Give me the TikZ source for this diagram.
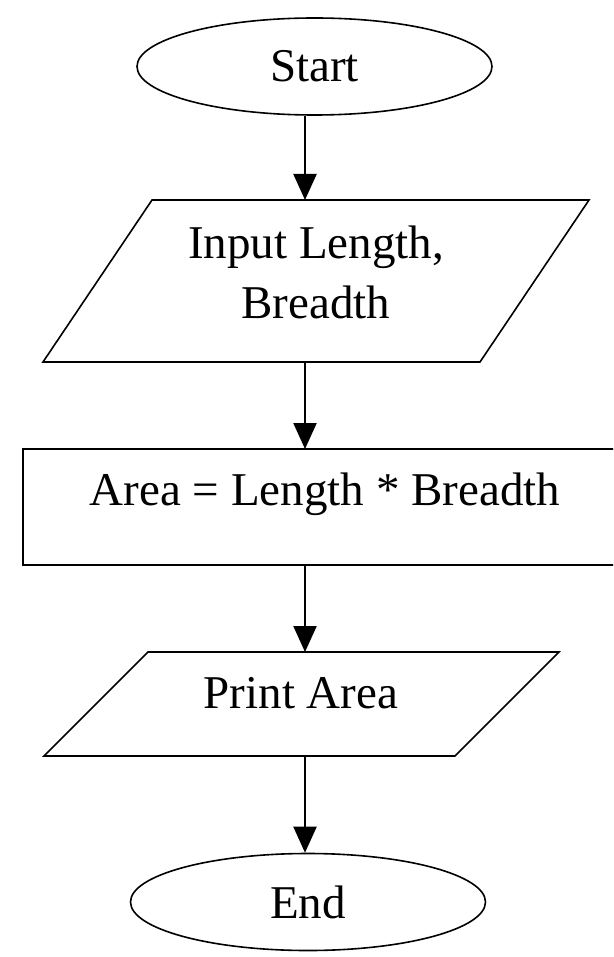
\documentclass[tikz,border=0pt]{standalone}
\usepackage{fontspec}
\setmainfont{Liberation Serif}
\usetikzlibrary{shapes.geometric,arrows.meta}
\begin{document}
\begin{tikzpicture}[x=1pt,y=-1pt,
  shapeline/.style={draw=black,line width=1.6pt},
  flowfont/.style={font=\fontsize{47}{60}\selectfont},
  flowtext/.style={flowfont, align=center, inner sep=0pt},
  terminal/.style={shapeline, ellipse, minimum width=355pt, minimum height=97pt, inner sep=0pt, flowfont},
  ghostbox/.style={inner sep=0pt, outer sep=0pt},
  flowarrow/.style={draw=black, line width=2.2pt, -{Triangle[width=23pt,length=26pt]}}]
\useasboundingbox (0,0) rectangle (613,957);
\clip (0,0) rectangle (613,957);
\coordinate (axis) at (305,0);

% Start
\node[terminal] (start) at (314.5,66.5) {Start};

% Input parallelogram
\node[ghostbox, minimum width=546pt, minimum height=162pt] (input) at (316,281) {};
\draw[shapeline] ([xshift=109pt]input.north west) -- (input.north east)
  -- ([xshift=-109pt]input.south east) -- (input.south west) -- cycle;
\node[flowtext] (inputtext) at (316,272) {Input Length,\\Breadth};

% Process rectangle
\node[shapeline, ghostbox, minimum width=604pt, minimum height=116pt] (calc) at (325,507) {};
\node[flowtext, anchor=base] (calctext) at (325,505) {Area = Length * Breadth};

% Print parallelogram
\node[ghostbox, minimum width=515pt, minimum height=104pt] (print) at (301.5,704) {};
\draw[shapeline] ([xshift=104pt]print.north west) -- (print.north east)
  -- ([xshift=-104pt]print.south east) -- (print.south west) -- cycle;
\node[flowtext, anchor=base] (printtext) at (301,708) {Print Area};

% End
\node[terminal] (end) at (308,902) {End};

% Connectors
\draw[flowarrow] (start.south -| axis) -- (input.north -| axis);
\draw[flowarrow] (input.south -| axis) -- (calc.north -| axis);
\draw[flowarrow] (calc.south -| axis) -- (print.north -| axis);
\draw[flowarrow] (print.south -| axis) -- (end.north -| axis);
\end{tikzpicture}
\end{document}
